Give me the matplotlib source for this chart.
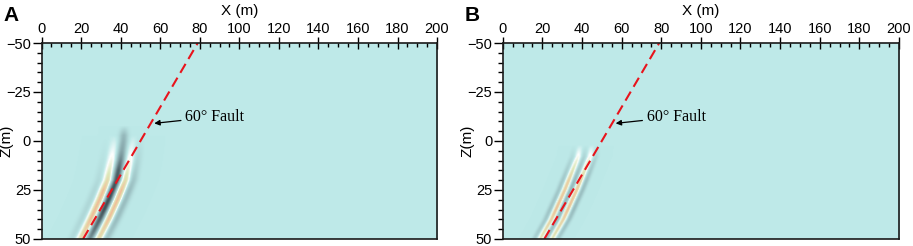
import numpy as np
import matplotlib
matplotlib.use('Agg')
import matplotlib.pyplot as plt
from matplotlib.colors import LinearSegmentedColormap

## Axis setup
x_range = [0, 200]
z_range = [-50, 50]
x_major = [0, 20, 40, 60, 80, 100, 120, 140, 160, 180, 200]
z_major = [-50, -25, 0, 25, 50]

## Fault trace (x, z)
fault_x = [21, 79]
fault_z = [50, -50]

## Panel A anomaly: centre line, lobes across it, envelopes down it
a_cz = [-8, 0, 10, 20, 30, 40, 50, 55]
a_cx = [41.5, 41.0, 39.5, 37.5, 33.5, 29.0, 24.0, 21.5]
a_off = [-9.0, -4.5, 0.0, 4.5, 8.5]
a_amp = [-0.12, 0.5, -0.9, 0.5, -0.3]
a_width = 2.2
a_env_cz = [-8, -3, 5, 15, 25, 35, 45, 52]
a_env_c = [0.0, 0.35, 0.5, 0.9, 1.0, 1.0, 0.8, 0.6]
a_env_sz = [-3, 5, 15, 25, 40, 50]
a_env_s = [0.0, 0.25, 0.6, 1.0, 1.0, 0.8]

## Panel B anomaly
b_cz = [0, 8, 25, 40, 49, 55]
b_cx = [42.0, 40.7, 34.0, 27.3, 22.2, 19.5]
b_off = [-6.0, -3.0, 0.0, 3.0, 6.0]
b_amp = [-0.25, 0.5, -0.35, 0.5, -0.3]
b_width = 1.4
b_env_cz = [2, 10, 20, 35, 45, 52]
b_env_c = [0.0, 0.5, 0.9, 1.0, 0.8, 0.6]
b_env_sz = [2, 10, 20, 35, 45, 52]
b_env_s = [0.0, 0.5, 0.9, 1.0, 0.8, 0.6]

fault_label = '60° Fault'
arrow_tip = (57.0, -9.0)
label_pos = (72.6, -12.3)

## Colour map: dark grey (negative) -> cyan (zero) -> white -> green -> orange
cmap = LinearSegmentedColormap.from_list('seis', [
    (0.00, '#2e3b42'),
    (0.30, '#7d9ba0'),
    (0.625, '#bde9e8'),
    (0.72, '#ffffff'),
    (0.82, '#dde9bc'),
    (0.91, '#efc9a0'),
    (1.00, '#e8907a')])

xs = np.arange(0, 200.5, 0.5)
zs = np.arange(-50, 50.5, 0.5)
X, Z = np.meshgrid(xs, zs)


def anomaly(cz, cx, off, amp, width, ecz, ec, esz, es):
    d = X - np.interp(Z, cz, cx)
    envc = np.interp(Z, ecz, ec, left=0, right=ec[-1])
    envs = np.interp(Z, esz, es, left=0, right=es[-1])
    field = np.zeros_like(X)
    for o, a in zip(off, amp):
        env = envc if o == 0 else envs
        field += a * env * np.exp(-((d - o) / width) ** 2)
    return field


fields = [
    anomaly(a_cz, a_cx, a_off, a_amp, a_width, a_env_cz, a_env_c, a_env_sz, a_env_s),
    anomaly(b_cz, b_cx, b_off, b_amp, b_width, b_env_cz, b_env_c, b_env_sz, b_env_s),
]

plt.rcParams['font.family'] = 'Liberation Sans'
plt.rcParams['font.size'] = 10.5

fig = plt.figure(figsize=(9.13, 2.46), dpi=100)
lefts = [0.0455, 0.5506]
widths = [0.4332, 0.4341]
letters = ['A', 'B']

for i in range(2):
    ax = fig.add_axes([lefts[i], 0.0285, widths[i], 0.7967])
    ax.imshow(fields[i], cmap=cmap, vmin=-1.0, vmax=0.6, aspect='auto',
              extent=(0, 200, 50, -50), origin='upper', interpolation='bilinear')
    ax.plot(fault_x, fault_z, color='#e8141c', lw=1.5, dashes=(5, 2.7))
    ax.annotate(fault_label, xy=arrow_tip, xytext=label_pos,
                fontsize=11.5, family='Liberation Serif', va='center', ha='left',
                arrowprops=dict(arrowstyle='-|>', color='k', lw=0.9,
                                mutation_scale=8, shrinkA=1, shrinkB=0))

    ax.set_xlim(x_range)
    ax.set_ylim(z_range[1], z_range[0])
    ax.xaxis.set_ticks_position('top')
    ax.xaxis.set_label_position('top')
    ax.set_xticks(x_major)
    ax.set_xticks(np.arange(0, 201, 5), minor=True)
    ax.set_yticks(z_major)
    ax.set_yticks(np.arange(-50, 51, 5), minor=True)
    ax.set_yticklabels(['\u221250', '\u221225', '0', '25', '50'])
    ax.tick_params(axis='x', which='major', direction='inout', length=8, width=1, pad=1)
    ax.tick_params(axis='x', which='minor', direction='in', length=3, width=1)
    ax.tick_params(axis='y', which='major', direction='out', length=6.5, width=1, pad=1)
    ax.tick_params(axis='y', which='minor', direction='out', length=3.5, width=1)
    ax.set_xlabel('X (m)', labelpad=5, fontsize=11)
    ax.set_ylabel('Z(m)', fontsize=11)
    ax.yaxis.set_label_coords(-0.072, 0.5)
    for s in ax.spines.values():
        s.set_linewidth(1.2)
        s.set_color('#1a1a1a')

    fig.text(lefts[i] - 0.042, 0.975, letters[i], fontsize=15, fontweight='bold',
             va='top', ha='left')

fig.savefig('out.png', dpi=100)
